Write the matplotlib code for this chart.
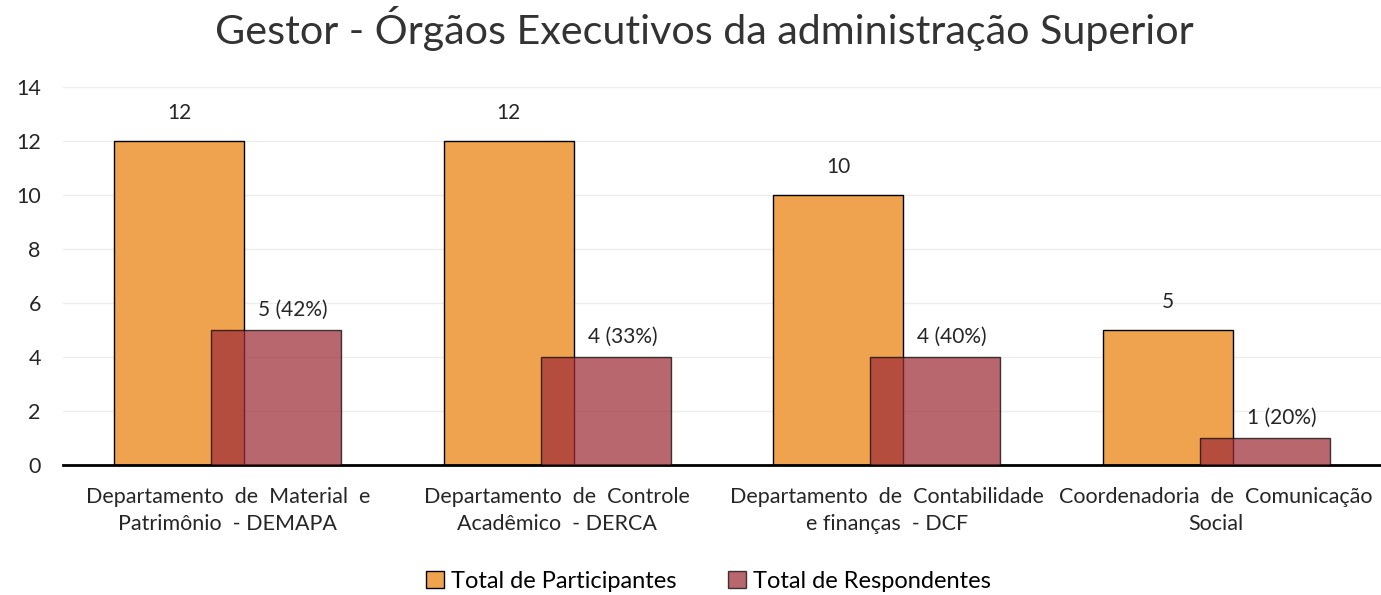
import numpy as np
import matplotlib.pyplot as plt
from matplotlib.patches import Patch

plt.rcParams['font.family'] = ['Lato', 'DejaVu Sans']

# dados
categorias = ['Departamento  de  Material  e\nPatrimônio  - DEMAPA',
              'Departamento  de  Controle\nAcadêmico  - DERCA',
              'Departamento  de  Contabilidade\ne finanças  - DCF',
              'Coordenadoria  de  Comunicação\nSocial']
participantes = [12, 12, 10, 5]
respondentes = [5, 4, 4, 1]
percentuais = ['42%', '33%', '40%', '20%']

cor_part = '#F0A34E'
cor_resp = '#9F2C38'

fig = plt.figure(figsize=(13.81, 5.95), dpi=100)
ax = fig.add_axes([0.0456, 0.2185, 0.9544, 0.6353])

x = np.arange(len(categorias))
w = 0.395
off = 0.147

ax.bar(x - off, participantes, w, color=cor_part, edgecolor='black', linewidth=1, zorder=2)
ax.bar(x + off, respondentes, w, color=cor_resp, alpha=0.72, edgecolor='black', linewidth=1, zorder=3)

for i in range(len(x)):
    ax.annotate(str(participantes[i]), (x[i] - off, participantes[i]), xytext=(0, 13),
                textcoords='offset points', ha='center', va='bottom', fontsize=15, color='#262626')
    ax.annotate(f'{respondentes[i]} ({percentuais[i]})', (x[i] + off, respondentes[i]), xytext=(12, 7),
                textcoords='offset points', ha='center', va='bottom', fontsize=15, color='#262626')

ax.set_xlim(-0.5, 3.5)
ax.set_ylim(0, 14)
ax.set_yticks(range(0, 15, 2))
ax.set_xticks(x)
ax.set_xticklabels(categorias, fontsize=15.5, color='#262626', linespacing=1.45)
ax.tick_params(axis='both', length=0, colors='#262626')
ax.tick_params(axis='y', labelsize=15.5, pad=16)
ax.tick_params(axis='x', pad=16)
ax.grid(axis='y', color='#EDEDED', linewidth=1, zorder=0)
ax.set_axisbelow(True)
for s in ['left', 'right', 'top']:
    ax.spines[s].set_visible(False)
ax.spines['bottom'].set_linewidth(2)

fig.suptitle('Gestor - Órgãos Executivos da administração Superior', fontsize=29.7,
             color='#333333', x=0.51, y=0.99)

handles = [Patch(facecolor=cor_part, edgecolor='black', label='Total de Participantes'),
           Patch(facecolor=cor_resp, alpha=0.72, edgecolor='black', label='Total de Respondentes')]
fig.legend(handles=handles, loc='lower center', bbox_to_anchor=(0.513, -0.03), ncol=2,
           frameon=False, fontsize=17, handlelength=0.75, handleheight=0.75, columnspacing=2.2,
           handletextpad=0.3)

fig.savefig('out.png', dpi=100)
